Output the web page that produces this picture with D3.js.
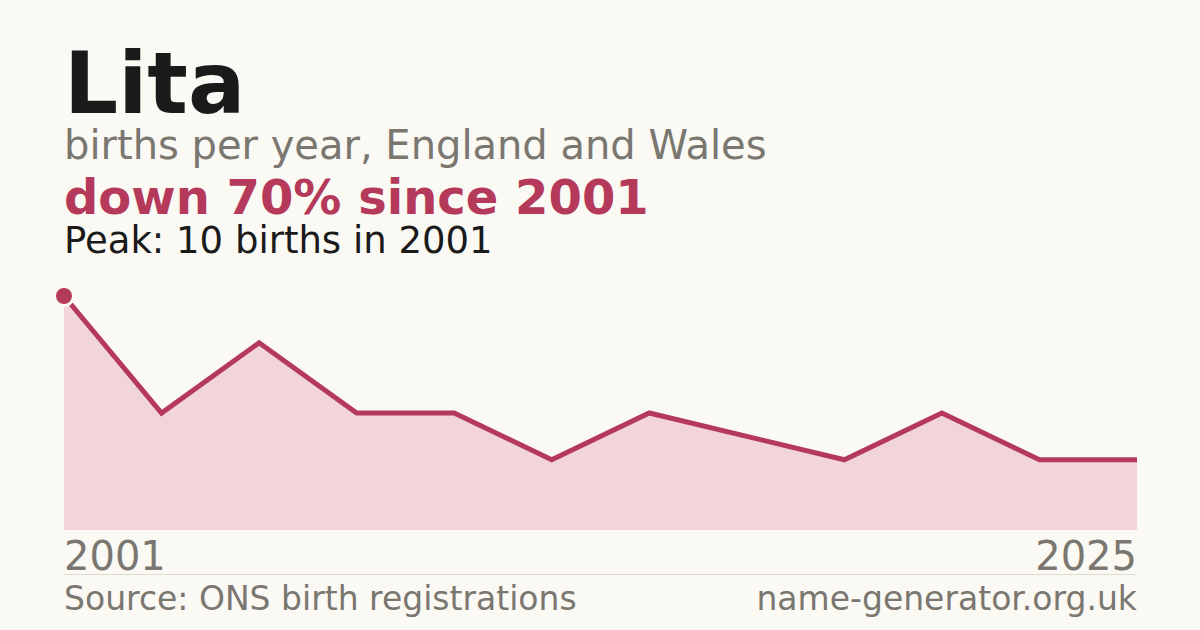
<!DOCTYPE html>
<html>
<head>
<meta charset="utf-8">
<script src="https://cdn.jsdelivr.net/npm/d3@7"></script>
<style>
  html, body { margin: 0; padding: 0; background: #faf9f4; }
  svg { display: block; font-family: 'DejaVu Sans', sans-serif; }
</style>
</head>
<body>
<svg id="chart"></svg>
<script>
// Data
var years = ['2001', '2003', '2005', '2007', '2009', '2011', '2013', '2015', '2017', '2019', '2022', '2025'];
var births = [10, 5, 8, 5, 5, 3, 5, 4, 3, 5, 3, 3];
var yDomain = [0, 10];

var svgWidth = 1200;
var svgHeight = 630;

var svg = d3.select('#chart')
    .attr('width', svgWidth)
    .attr('height', svgHeight);

svg.append('rect')
    .attr('width', svgWidth)
    .attr('height', svgHeight)
    .attr('fill', '#faf9f4');

var accent = '#b5395a';
var grey = '#7a7670';

// Header texts
svg.append('text')
    .attr('x', 64).attr('y', 113)
    .attr('font-size', 85).attr('font-weight', 'bold')
    .attr('fill', '#1a1a1a')
    .text('Lita');

svg.append('text')
    .attr('x', 64).attr('y', 159)
    .attr('font-size', 40)
    .attr('fill', grey)
    .text('births per year, England and Wales');

svg.append('text')
    .attr('x', 64).attr('y', 214)
    .attr('font-size', 48).attr('font-weight', 'bold')
    .attr('fill', accent)
    .text('down 70% since 2001');

svg.append('text')
    .attr('x', 64).attr('y', 253)
    .attr('font-size', 37)
    .attr('fill', '#1a1a1a')
    .text('Peak: 10 births in 2001');

// Chart area
var x = d3.scalePoint()
    .domain(years)
    .range([64, 1137]);

var y = d3.scaleLinear()
    .domain(yDomain)
    .range([530, 296]);

var data = years.map((d, i) => ({ year: d, value: births[i] }));

var area = d3.area()
    .x((d) => x(d.year))
    .y0(y(0))
    .y1((d) => y(d.value));

var line = d3.line()
    .x((d) => x(d.year))
    .y((d) => y(d.value));

svg.append('path')
    .datum(data)
    .attr('d', area)
    .attr('fill', '#f2d5db');

svg.append('path')
    .datum(data)
    .attr('d', line)
    .attr('fill', 'none')
    .attr('stroke', accent)
    .attr('stroke-width', 5)
    .attr('stroke-linejoin', 'miter');

// Peak marker
var peak = data[d3.maxIndex(data, (d) => d.value)];
svg.append('circle')
    .attr('cx', x(peak.year))
    .attr('cy', y(peak.value))
    .attr('r', 9.5)
    .attr('fill', accent)
    .attr('stroke', '#faf9f4')
    .attr('stroke-width', 3);

// First / last year labels
svg.append('text')
    .attr('x', x(years[0])).attr('y', 570)
    .attr('font-size', 40)
    .attr('fill', grey)
    .text(years[0]);

svg.append('text')
    .attr('x', x(years[years.length - 1])).attr('y', 570)
    .attr('font-size', 40)
    .attr('text-anchor', 'end')
    .attr('fill', grey)
    .text(years[years.length - 1]);

// Separator
svg.append('line')
    .attr('x1', 64).attr('x2', 1137)
    .attr('y1', 574.5).attr('y2', 574.5)
    .attr('stroke', '#dedad2')
    .attr('stroke-width', 1);

// Footer
svg.append('text')
    .attr('x', 64).attr('y', 610)
    .attr('font-size', 33)
    .attr('fill', grey)
    .text('Source: ONS birth registrations');

svg.append('text')
    .attr('x', 1137).attr('y', 610)
    .attr('font-size', 33)
    .attr('text-anchor', 'end')
    .attr('fill', grey)
    .text('name-generator.org.uk');
</script>
</body>
</html>
